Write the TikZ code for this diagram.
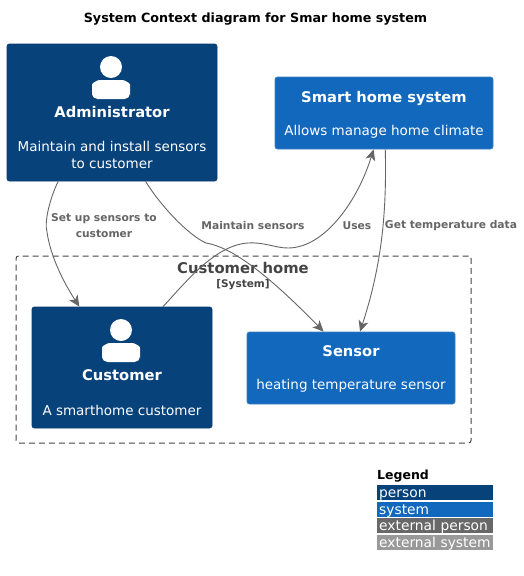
\documentclass[tikz,border=0pt]{standalone}
\usepackage{fontspec}
\setmainfont{DejaVu Sans}
\usetikzlibrary{arrows.meta}
\definecolor{personblue}{HTML}{08427B}
\definecolor{personline}{HTML}{073B6F}
\definecolor{systemblue}{HTML}{1168BD}
\definecolor{systemline}{HTML}{3C7FC0}
\definecolor{extperson}{HTML}{686868}
\definecolor{extsystem}{HTML}{999999}
\definecolor{linkgray}{HTML}{666666}
\definecolor{boundgray}{HTML}{444444}
\newcommand{\personicon}[2]{
\fill [white] (#1,#2-13) circle (11);
\fill [white, rounded corners=5.5] (#1-19,#2+19) -- (#1-19,#2+10) .. controls (#1-19,#2+3) and (#1-13,#2) .. (#1-6,#2) -- (#1+6,#2) .. controls (#1+13,#2) and (#1+19,#2+3) .. (#1+19,#2+10) -- (#1+19,#2+19) -- cycle;
}
\begin{document}
\begin{tikzpicture}[x=1pt,y=-1pt]
\tikzstyle{box}=[rectangle,rounded corners=2.5pt,inner sep=0pt,line width=0.8pt];
\tikzstyle{person}=[box,fill=personblue,draw=personline];
\tikzstyle{system}=[box,fill=systemblue,draw=systemline];
\tikzstyle{boxname}=[text=white,font=\fontsize{14.7}{17}\selectfont\bfseries];
\tikzstyle{descr}=[text=white,align=center,font=\fontsize{13.5}{17}\selectfont];
\tikzstyle{link}=[-{Stealth[length=11pt,width=10pt,inset=3pt]},draw=linkgray,line width=0.9pt];
\tikzstyle{linktext}=[text=linkgray,align=center,font=\fontsize{10.7}{16}\selectfont\bfseries];
\tikzstyle{legendbar}=[minimum width=116pt,minimum height=15pt,inner sep=0pt,text=white,anchor=west,text width=112pt,text height=11pt,text depth=1pt,font=\fontsize{13.8}{14}\selectfont];
\useasboundingbox (0,0) rectangle (523,576);
\fill [white] (0,0) rectangle (523,576);

\node [font=\fontsize{12.7}{14}\selectfont\bfseries] (title) at (255.5,19) {System Context diagram for Smar home system};

\node [draw=boundgray,dash pattern=on 6pt off 4pt,rectangle,rounded corners=2.5pt,line width=1pt,minimum width=455pt,minimum height=187pt,inner sep=0pt] (boundary) at (243.5,349.5) {};
\node [text=boundgray,font=\fontsize{14.8}{16}\selectfont\bfseries] (boundname) at (243,268) {Customer home};
\node [text=boundgray,font=\fontsize{10.5}{12}\selectfont\bfseries] (boundtype) at (243,285) {[System]};

\node [person,minimum width=210pt,minimum height=137pt] (admin) at (112,112.5) {};
\node [system,minimum width=218pt,minimum height=72pt] (smart) at (384,113) {};
\node [person,minimum width=180pt,minimum height=121pt] (customer) at (122,367.5) {};
\node [system,minimum width=208pt,minimum height=72pt] (sensor) at (351,368) {};

\personicon{111}{80}
\personicon{121}{343}

\node [boxname] (adminname) at (112,112) {Administrator};
\node [descr] (admindescr) at (112,155) {Maintain and install sensors\\to customer};
\node [boxname] (smartname) at (384,98) {Smart home system};
\node [descr] (smartdescr) at (384,131.5) {Allows manage home climate};
\node [boxname] (customername) at (122,375) {Customer};
\node [descr] (customerdescr) at (122,410) {A smarthome customer};
\node [boxname] (sensorname) at (351,351) {Sensor};
\node [descr] (sensordescr) at (351,386) {heating temperature sensor};

\draw [link] (admin.232) .. controls (50,198) and (44,222) .. (47,232) .. controls (50,254) and (62,280) .. (customer.125);
\draw [link] (admin.-64) .. controls (160,205) and (188,235) .. (206,243) .. controls (222,246) and (250,256) .. (sensor.127);
\draw [link] (customer.56) .. controls (185,283) and (215,245) .. (248,243) .. controls (265,242) and (275,248) .. (288,248) .. controls (325,248) and (358,200) .. (smart.254);
\draw [link] (smart.272) .. controls (387,220) and (380,270) .. (sensor.76);

\node [linktext] (setuptext) at (104,226) {Set up sensors to\\customer};
\node [linktext] (maintaintext) at (253,226) {Maintain sensors};
\node [linktext] (usestext) at (357,226) {Uses};
\node [linktext] (gettext) at (451,226) {Get temperature data};

\node [font=\fontsize{12.5}{14}\selectfont\bfseries,anchor=west,inner sep=0pt] (legend) at (377,476) {Legend};
\node [legendbar,fill=personblue] (legendperson) at (377,492.5) {person};
\node [legendbar,fill=systemblue] (legendsystem) at (377,509) {system};
\node [legendbar,fill=extperson] (legendextperson) at (377,525.5) {external person};
\node [legendbar,fill=extsystem] (legendextsystem) at (377,542) {external system};
\end{tikzpicture}
\end{document}
